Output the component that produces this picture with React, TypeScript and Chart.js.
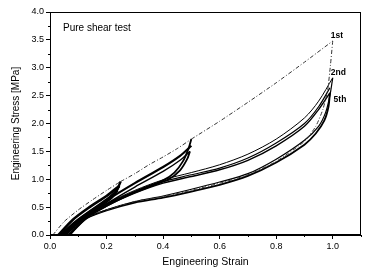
import React, { useEffect, useRef } from "react";
import { Chart, registerables } from "chart.js";

Chart.register(...registerables);

// ---- data (strain, stress [MPa]) ----
// Stage A: cycles to strain 0.25
const aLoad1Strain = [0.01, 0.05, 0.1, 0.15, 0.2, 0.25];
const aLoad1Stress = [0.0, 0.24, 0.45, 0.63, 0.8, 0.96];
const aUnload1Strain = [0.25, 0.235, 0.2, 0.15, 0.1, 0.06, 0.04];
const aUnload1Stress = [0.96, 0.8, 0.62, 0.42, 0.24, 0.08, 0.0];
const aReloadStrain = [0.03, 0.08, 0.14, 0.2, 0.245];
const aReloadStress = [0.0, 0.27, 0.5, 0.7, 0.88];
const aReload5Strain = [0.035, 0.09, 0.15, 0.2, 0.24];
const aReload5Stress = [0.0, 0.24, 0.46, 0.64, 0.8];
const aUnload5Strain = [0.245, 0.22, 0.16, 0.1, 0.06, 0.045];
const aUnload5Stress = [0.88, 0.68, 0.45, 0.22, 0.06, 0.0];

// Stage B: cycles to strain 0.5
const bLoad1Strain = [0.25, 0.3, 0.35, 0.4, 0.45, 0.5];
const bLoad1Stress = [0.96, 1.1, 1.26, 1.4, 1.55, 1.72];
const bUnload1Strain = [0.5, 0.49, 0.47, 0.44, 0.4, 0.33, 0.25, 0.16, 0.08, 0.05];
const bUnload1Stress = [1.72, 1.55, 1.32, 1.12, 0.98, 0.84, 0.66, 0.44, 0.15, 0.0];
const bReloadStrain = [0.05, 0.1, 0.2, 0.3, 0.4, 0.46, 0.5];
const bReloadStress = [0.0, 0.27, 0.62, 0.93, 1.22, 1.42, 1.6];
const bReload5Strain = [0.055, 0.1, 0.2, 0.3, 0.4, 0.46, 0.495];
const bReload5Stress = [0.0, 0.22, 0.56, 0.86, 1.14, 1.34, 1.5];
const bUnload5Strain = [0.495, 0.485, 0.46, 0.42, 0.36, 0.28, 0.2, 0.11, 0.07, 0.055];
const bUnload5Stress = [1.5, 1.36, 1.16, 1.0, 0.88, 0.72, 0.52, 0.26, 0.08, 0.0];

// Stage C: cycles to strain 1.0
const cLoad1Strain = [0.5, 0.6, 0.7, 0.8, 0.9, 1.0];
const cLoad1Stress = [1.72, 2.04, 2.38, 2.73, 3.1, 3.48];
const cUnload1Strain = [1.0, 0.992, 0.982, 0.965, 0.94, 0.9, 0.8, 0.7, 0.6, 0.5, 0.4, 0.3, 0.2, 0.12, 0.08, 0.06];
const cUnload1Stress = [3.48, 3.05, 2.6, 2.25, 1.95, 1.68, 1.32, 1.08, 0.93, 0.8, 0.69, 0.6, 0.45, 0.3, 0.1, 0.0];
const cReload2Strain = [0.06, 0.1, 0.2, 0.3, 0.4, 0.5, 0.6, 0.7, 0.8, 0.9, 0.95, 1.0];
const cReload2Stress = [0.0, 0.22, 0.56, 0.8, 0.99, 1.12, 1.26, 1.45, 1.72, 2.1, 2.4, 2.82];
const cUnload2Strain = [1.0, 0.99, 0.975, 0.95, 0.9, 0.8, 0.7, 0.6, 0.5, 0.4, 0.3, 0.2, 0.12, 0.08, 0.065];
const cUnload2Stress = [2.82, 2.5, 2.2, 1.95, 1.7, 1.36, 1.1, 0.95, 0.82, 0.7, 0.6, 0.45, 0.28, 0.1, 0.0];
const cReload3Strain = [0.065, 0.12, 0.2, 0.3, 0.4, 0.5, 0.6, 0.7, 0.8, 0.9, 0.95, 0.99];
const cReload3Stress = [0.0, 0.3, 0.56, 0.78, 0.96, 1.08, 1.2, 1.38, 1.65, 2.0, 2.3, 2.64];
const cReload5Strain = [0.07, 0.13, 0.2, 0.3, 0.4, 0.5, 0.6, 0.7, 0.8, 0.9, 0.95, 0.99];
const cReload5Stress = [0.0, 0.3, 0.52, 0.75, 0.93, 1.05, 1.17, 1.34, 1.6, 1.95, 2.25, 2.55];
const cUnload5Strain = [0.99, 0.985, 0.97, 0.94, 0.9, 0.8, 0.7, 0.6, 0.5, 0.4, 0.3, 0.2, 0.13, 0.09, 0.07];
const cUnload5Stress = [2.55, 2.3, 2.05, 1.82, 1.62, 1.3, 1.06, 0.9, 0.78, 0.67, 0.58, 0.44, 0.3, 0.12, 0.0];

const xTicks = [0, 0.2, 0.4, 0.6, 0.8, 1.0];
const yTicks = [0, 0.5, 1.0, 1.5, 2.0, 2.5, 3.0, 3.5, 4.0];

const titleText = "Pure shear test";
const cycleLabels = ["1st", "2nd", "5th"];
const cycleLabelStrain = [0.993, 0.993, 1.003];
const cycleLabelStress = [3.57, 2.92, 2.42];

const FONT = "'Liberation Sans', Arial, sans-serif";

function pts(xs: number[], ys: number[]) {
  return xs.map((x, i) => ({ x, y: ys[i] }));
}

const framePlugin = {
  id: "frame",
  afterDraw(chart: any) {
    const { ctx, chartArea } = chart;
    const xs = chart.scales.x;
    const ys = chart.scales.y;
    ctx.save();
    ctx.strokeStyle = "#000";
    ctx.lineWidth = 1;
    ctx.strokeRect(chartArea.left + 0.5, chartArea.top + 0.5, chartArea.right - chartArea.left - 1, chartArea.bottom - chartArea.top - 1);
    // minor ticks
    ctx.beginPath();
    for (let v = 0.1; v < 1.1; v += 0.2) {
      const px = Math.round(xs.getPixelForValue(v)) + 0.5;
      ctx.moveTo(px, chartArea.bottom);
      ctx.lineTo(px, chartArea.bottom + 2);
    }
    for (let v = 0.25; v < 4; v += 0.5) {
      const py = Math.round(ys.getPixelForValue(v)) + 0.5;
      ctx.moveTo(chartArea.left, py);
      ctx.lineTo(chartArea.left - 2, py);
    }
    ctx.stroke();
    // texts
    ctx.fillStyle = "#000";
    ctx.font = `10px ${FONT}`;
    ctx.textBaseline = "middle";
    ctx.textAlign = "left";
    ctx.fillText(titleText, xs.getPixelForValue(0.046), ys.getPixelForValue(3.71));
    ctx.font = `bold 8.5px ${FONT}`;
    cycleLabels.forEach((t, i) => {
      ctx.fillText(t, xs.getPixelForValue(cycleLabelStrain[i]), ys.getPixelForValue(cycleLabelStress[i]));
    });
    ctx.restore();
  },
};

export default function App() {
  const ref = useRef<HTMLCanvasElement>(null);
  useEffect(() => {
    document.body.style.margin = "0";
    const dashed = (data: any) => ({
      data,
      showLine: true,
      borderColor: "#333",
      borderWidth: 1,
      borderDash: [4, 2, 1, 2],
      pointRadius: 0,
      tension: 0.2,
    });
    const solid = (data: any, w = 1.2) => ({
      data,
      showLine: true,
      borderColor: "#000",
      borderWidth: w,
      pointRadius: 0,
      tension: 0.3,
    });
    const chart = new Chart(ref.current!, {
      type: "scatter",
      data: {
        datasets: [
          dashed(pts(aLoad1Strain, aLoad1Stress)),
          solid(pts(aUnload1Strain, aUnload1Stress), 2.4),
          solid(pts(aReloadStrain, aReloadStress), 2.6),
          solid(pts(aReload5Strain, aReload5Stress), 2),
          solid(pts(aUnload5Strain, aUnload5Stress), 2.4),
          dashed(pts(bLoad1Strain, bLoad1Stress)),
          solid(pts(bUnload1Strain, bUnload1Stress), 1.8),
          solid(pts(bReloadStrain, bReloadStress), 2.2),
          solid(pts(bReload5Strain, bReload5Stress), 1.4),
          solid(pts(bUnload5Strain, bUnload5Stress), 1.8),
          dashed(pts(cLoad1Strain, cLoad1Stress)),
          dashed(pts(cUnload1Strain, cUnload1Stress)),
          solid(pts(cReload2Strain, cReload2Stress), 1),
          solid(pts(cUnload2Strain, cUnload2Stress), 1.2),
          solid(pts(cReload3Strain, cReload3Stress), 1.2),
          solid(pts(cReload5Strain, cReload5Stress), 1.4),
          solid(pts(cUnload5Strain, cUnload5Stress), 1.8),
        ],
      },
      options: {
        animation: false,
        responsive: false,
        layout: { padding: { top: 12, right: 4, left: 0, bottom: 0 } },
        plugins: { legend: { display: false }, tooltip: { enabled: false } },
        scales: {
          x: {
            type: "linear",
            min: 0,
            max: 1.1,
            afterBuildTicks: (axis: any) => {
              axis.ticks = xTicks.map((v) => ({ value: v }));
            },
            afterFit: (s: any) => {
              s.height = 39;
            },
            ticks: {
              color: "#000",
              font: { family: FONT, size: 9 },
              padding: 2,
              maxRotation: 0,
              callback: (v: any) => Number(v).toFixed(1),
            },
            grid: { drawOnChartArea: false, drawTicks: true, tickLength: 4, color: "#000" },
            border: { display: true, color: "#000", width: 1 },
            title: {
              display: true,
              text: "Engineering Strain",
              color: "#000",
              font: { family: FONT, size: 10.5 },
              padding: { top: 0, bottom: 6 },
            },
          },
          y: {
            type: "linear",
            min: 0,
            max: 4,
            afterBuildTicks: (axis: any) => {
              axis.ticks = yTicks.map((v) => ({ value: v }));
            },
            afterFit: (s: any) => {
              s.width = 50;
            },
            ticks: {
              color: "#000",
              font: { family: FONT, size: 9 },
              padding: 2,
              callback: (v: any) => Number(v).toFixed(1),
            },
            grid: { drawOnChartArea: false, drawTicks: true, tickLength: 4, color: "#000" },
            border: { display: true, color: "#000", width: 1 },
            title: {
              display: true,
              text: "Engineering Stress [MPa]",
              color: "#000",
              font: { family: FONT, size: 10 },
              padding: { top: 10, bottom: 0 },
            },
          },
        },
      },
      plugins: [framePlugin],
    } as any);
    return () => chart.destroy();
  }, []);
  return <canvas ref={ref} width={365} height={274} style={{ display: "block" }} />;
}
